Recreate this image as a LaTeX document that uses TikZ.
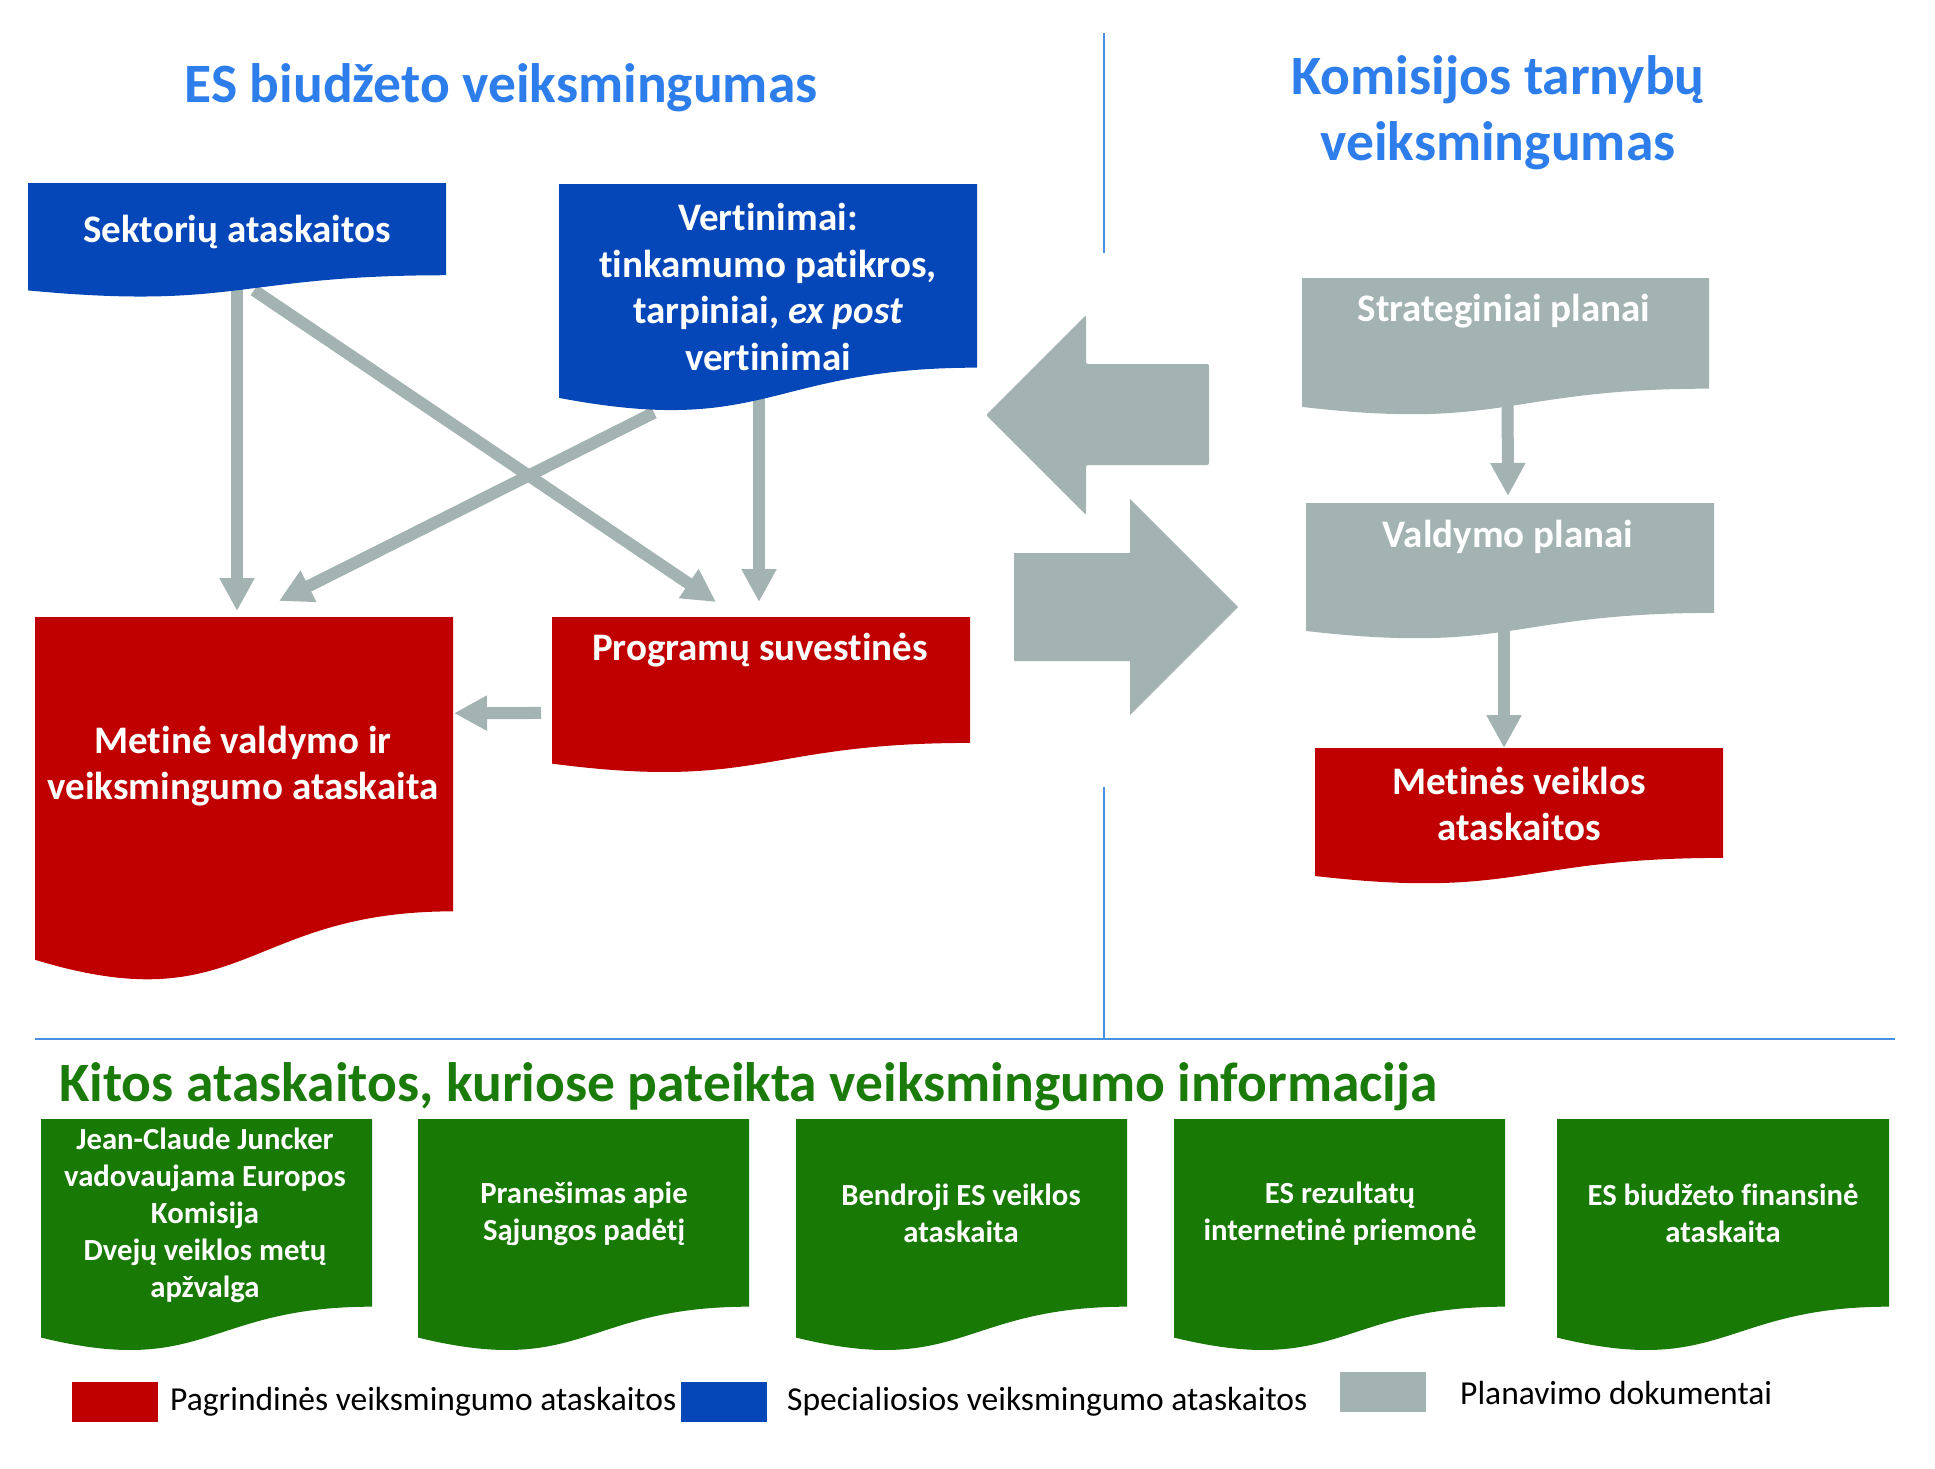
\documentclass[tikz,border=0pt]{standalone}
\usepackage{fontspec}
\setmainfont{Carlito}[RawFeature={-liga;-clig;-calt;-dlig}]
\usetikzlibrary{calc,arrows.meta}
\definecolor{titleblue}{HTML}{2D7DEB}
\definecolor{boxblue}{HTML}{0546B9}
\definecolor{boxred}{HTML}{C00000}
\definecolor{boxgreen}{HTML}{187A05}
\definecolor{titlegreen}{HTML}{1A7A0A}
\definecolor{boxgray}{HTML}{A3B3B1}
\definecolor{lineblue}{HTML}{4A90E2}
\pgfdeclarelayer{back}
\pgfsetlayers{back,main}
\newcommand{\docnode}[6]{%
  \node[inner sep=0pt, outer sep=0pt, minimum width=#4pt, minimum height={0.802*#5pt}, anchor=north west] (#1) at (#2,#3) {};
  \fill[#6] (#1.north west) -- (#1.north east) -- (#1.south east)
    .. controls (#1.south) and ($(#1.south)+(0,{0.305*#5})$) .. ($(#1.south west)+(0,{0.132*#5})$) -- cycle;
}
\tikzset{
  ttl/.style={text=titleblue, font=\fontsize{55.5}{66}\selectfont\bfseries, align=center, inner sep=0pt},
  boxtxt/.style={text=white, font=\fontsize{39}{46.5}\selectfont\bfseries, align=center, inner sep=0pt},
  greentxt/.style={text=white, font=\fontsize{30.7}{37}\selectfont\bfseries, align=center, inner sep=0pt},
  legtxt/.style={text=black, font=\fontsize{33.5}{36}\selectfont, anchor=west, inner sep=0pt},
  legbox/.style={minimum width=86pt, minimum height=40pt, inner sep=0pt, anchor=north west},
  flow/.style={draw=boxgray, line width=12pt, -{Triangle[width=33pt,length=33pt]}},
  divider/.style={draw=lineblue, line width=2pt},
  block/.style={fill=boxgray}
}
\begin{document}
\begin{tikzpicture}[x=1pt,y=-1pt]
\useasboundingbox (0,0) rectangle (1935,1468);

% titles
\node[ttl] (t1) at (501,88) {ES biudžeto veiksmingumas};
\node[ttl] (t2) at (1498,113) {Komisijos tarnybų\\veiksmingumas};

% dividers
\coordinate (d1a) at (1104,33);
\coordinate (d1b) at (1104,253);
\coordinate (d2a) at (1104,787);
\coordinate (d2b) at (1104,1039);
\coordinate (h1) at (35,1039);
\coordinate (h2) at (1895,1039);
\draw[divider] (d1a) -- (d1b);
\draw[divider] (d2a) -- (d2b);
\draw[divider] (h1) -- (h2);

% document boxes
\docnode{sekt}{28}{183}{418}{115}{boxblue}
\docnode{vert}{559}{184}{418}{229}{boxblue}
\docnode{metine}{35}{617}{418}{367}{boxred}
\docnode{prog}{552}{617}{418}{157}{boxred}
\docnode{strat}{1302}{278}{407}{138}{boxgray}
\docnode{vald}{1306}{503}{408}{137}{boxgray}
\docnode{metveik}{1315}{748}{408}{137}{boxred}

\node[boxtxt] (sektT) at (237,232) {Sektorių ataskaitos};
\node[boxtxt] (vertT) at (768,287) {Vertinimai:\\tinkamumo patikros,\\tarpiniai, \textit{ex post}\\vertinimai};
\node[boxtxt] (metineT) at (243,766) {Metinė valdymo ir\\veiksmingumo ataskaita};
\node[boxtxt] (progT) at (760,650) {Programų suvestinės};
\node[boxtxt] (stratT) at (1504,311) {Strateginiai planai};
\node[boxtxt] (valdT) at (1508,537) {Valdymo planai};
\node[boxtxt] (metveikT) at (1519,804) {Metinės veiklos\\ataskaitos};

% connectors
\begin{pgfonlayer}{back}
\draw[flow] (sekt.south) -- ($(metine.north)+(-7,-6)$);
\draw[flow] ($(sekt.south)+(17,15)$) -- ($(prog.north)+(-45,-15)$);
\draw[flow] ($(vert.south)+(-114,45)$) -- ($(metine.north)+(35,-16)$);
\draw[flow] ($(vert.south)+(-9,30)$) -- ($(prog.north)+(-2,-15)$);
\draw[flow] ($(prog.west)+(-11,33)$) -- ($(metine.east)+(1,-51)$);
\draw[flow] ($(strat.south)+(2,0)$) -- ($(vald.north)+(-2,-7)$);
\draw[flow] ($(vald.south)+(-6,0)$) -- ($(metveik.north)+(-15,0)$);
\end{pgfonlayer}

% big block arrows
\fill[block, rounded corners=2pt] (986,415) -- (1086,315) -- (1086,364) -- (1209,364) -- (1209,465) -- (1086,465) -- (1086,515) -- cycle;
\fill[block] (1014,553) -- (1130,553) -- (1130,499) -- (1238,607) -- (1130,715) -- (1130,661) -- (1014,661) -- cycle;

% other reports
\node[anchor=west, text=titlegreen, font=\fontsize{55.5}{60}\selectfont\bfseries, inner sep=0pt] (t3) at (59,1087) {Kitos ataskaitos, kuriose pateikta veiksmingumo informacija};

\docnode{g1}{41}{1119}{331}{234}{boxgreen}
\docnode{g2}{418}{1119}{331}{234}{boxgreen}
\docnode{g3}{796}{1119}{331}{234}{boxgreen}
\docnode{g4}{1174}{1119}{331}{234}{boxgreen}
\docnode{g5}{1557}{1119}{332}{234}{boxgreen}

\node[greentxt] (g1T) at (205,1215) {Jean-Claude Juncker\\vadovaujama Europos\\Komisija\\Dvejų veiklos metų\\apžvalga};
\node[greentxt] (g2T) at (584,1214) {Pranešimas apie\\Sąjungos padėtį};
\node[greentxt] (g3T) at (961,1213) {Bendroji ES veiklos\\ataskaita};
\node[greentxt] (g4T) at (1340,1214) {ES rezultatų\\internetinė priemonė};
\node[greentxt] (g5T) at (1723,1213) {ES biudžeto finansinė\\ataskaita};

% legend
\node[legbox, fill=boxred] (l1) at (72,1382) {};
\node[legtxt] (l1T) at (170,1402) {Pagrindinės veiksmingumo ataskaitos};
\node[legbox, fill=boxblue] (l2) at (681,1382) {};
\node[legtxt] (l2T) at (787,1402) {Specialiosios veiksmingumo ataskaitos};
\node[legbox, fill=boxgray] (l3) at (1340,1372) {};
\node[legtxt] (l3T) at (1460,1393) {Planavimo dokumentai};
\end{tikzpicture}
\end{document}
